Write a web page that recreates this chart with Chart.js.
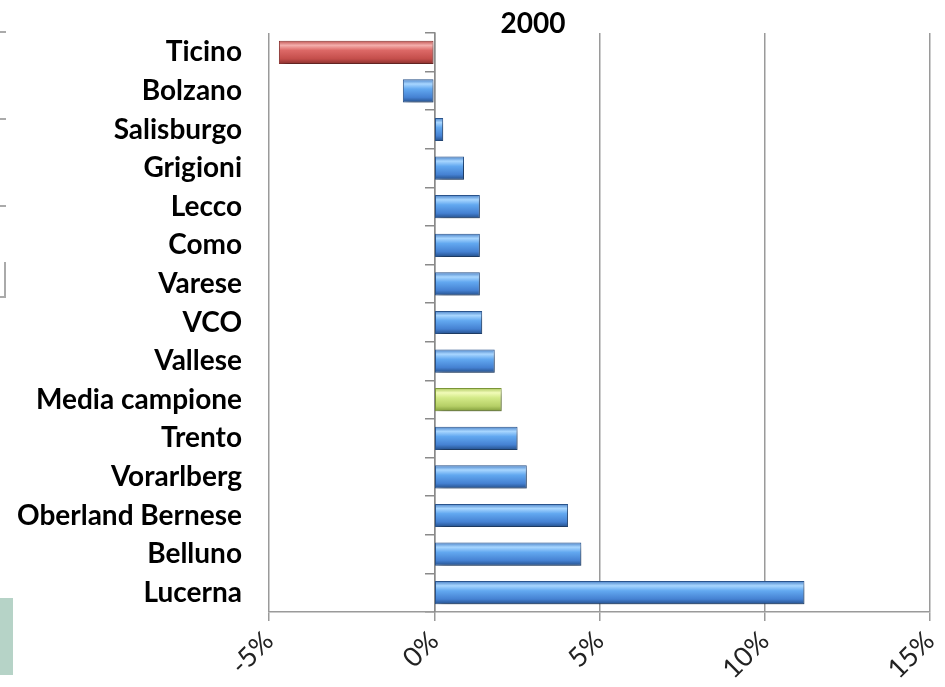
<!DOCTYPE html>
<html>
<head>
<meta charset="utf-8">
<script src="https://cdn.jsdelivr.net/npm/chart.js@4"></script>
<style>
  html, body { margin: 0; padding: 0; background: #fff; }
  #wrap { position: relative; width: 945px; height: 687px; overflow: hidden; }
  .mark { position: absolute; background: #aaa; }
</style>
</head>
<body>
<div id="wrap">
  <canvas id="chart" width="945" height="687"></canvas>
  <!-- bits of the neighbouring slide on the left edge -->
  <div class="mark" style="left:0;top:31px;width:6px;height:2px"></div>
  <div class="mark" style="left:0;top:118px;width:6px;height:2px"></div>
  <div class="mark" style="left:0;top:205px;width:6px;height:2px"></div>
  <div class="mark" style="left:4px;top:262px;width:2px;height:36px"></div>
  <div class="mark" style="left:0;top:296px;width:5px;height:2px"></div>
  <div style="position:absolute;left:0;top:598px;width:13px;height:77px;background:#b6d3c7"></div>
</div>
<script>
const title = '2000';
const regions = ['Ticino', 'Bolzano', 'Salisburgo', 'Grigioni', 'Lecco', 'Como', 'Varese', 'VCO',
    'Vallese', 'Media campione', 'Trento', 'Vorarlberg', 'Oberland Bernese', 'Belluno', 'Lucerna'];
const growth = [-4.7, -0.95, 0.27, 0.9, 1.38, 1.38, 1.38, 1.45, 1.83, 2.04, 2.52, 2.8, 4.05, 4.45, 11.2];
const xTicks = [-5, 0, 5, 10, 15];

const palette = {
    blue: { edge: '#2b568f', stops: ['#4a82c8', '#a8d6ff', '#62a8f0', '#4581d2', '#244f8a'] },
    red: { edge: '#8e3432', stops: ['#c05250', '#f4aeac', '#dc6866', '#c44e4b', '#8a302e'] },
    green: { edge: '#7f9a3a', stops: ['#adc85e', '#f1fbb8', '#d3ea88', '#b5cf66', '#7f9b3a'] }
};

function colorFor(i) {
    if (regions[i] === 'Ticino') return palette.red;
    if (regions[i] === 'Media campione') return palette.green;
    return palette.blue;
}

function barFill(context) {
    const chart = context.chart;
    const yScale = chart.scales.y;
    const pal = colorFor(context.dataIndex);
    if (!yScale || context.dataIndex === undefined) return pal.stops[3];
    const band = (yScale.bottom - yScale.top) / regions.length * 0.6;
    const cy = yScale.getPixelForValue(context.dataIndex);
    if (!isFinite(cy) || !isFinite(band) || band <= 0) return pal.stops[3];
    const g = chart.ctx.createLinearGradient(0, cy - band / 2, 0, cy + band / 2);
    g.addColorStop(0, pal.stops[0]);
    g.addColorStop(0.2, pal.stops[1]);
    g.addColorStop(0.42, pal.stops[2]);
    g.addColorStop(0.78, pal.stops[3]);
    g.addColorStop(1, pal.stops[4]);
    return g;
}

const shadowPlugin = {
    id: 'barShadow',
    beforeDatasetsDraw(chart) {
        const c = chart.ctx;
        c.save();
        c.shadowColor = 'rgba(0,0,0,0.4)';
        c.shadowBlur = 7;
        c.shadowOffsetX = 3;
        c.shadowOffsetY = 4;
    },
    afterDatasetsDraw(chart) {
        chart.ctx.restore();
    }
};

const titlePlugin = {
    id: 'topTitle',
    afterDraw(chart) {
        const c = chart.ctx;
        c.save();
        c.font = 'bold 28px Lato';
        c.fillStyle = '#000';
        c.textAlign = 'center';
        c.textBaseline = 'alphabetic';
        c.fillText(title, 533, 33);
        c.restore();
    }
};

new Chart(document.getElementById('chart'), {
    type: 'bar',
    data: {
        labels: regions,
        datasets: [{
            data: growth,
            backgroundColor: barFill,
            borderColor: ctx => colorFor(ctx.dataIndex).edge,
            borderWidth: 1,
            borderSkipped: false,
            categoryPercentage: 1,
            barPercentage: 0.6
        }]
    },
    options: {
        indexAxis: 'y',
        responsive: false,
        animation: false,
        layout: { padding: { top: 33, right: 15, left: 0, bottom: 0 } },
        plugins: {
            legend: { display: false },
            tooltip: { enabled: false }
        },
        scales: {
            x: {
                min: -5,
                max: 15,
                afterBuildTicks: s => { s.ticks = xTicks.map(v => ({ value: v })); },
                afterFit: s => { s.height = 75; s.paddingLeft = 0; s.paddingRight = 0; },
                grid: { color: '#9a9a9a', lineWidth: 1.5, tickLength: 9 },
                border: { color: '#9a9a9a', width: 1.5 },
                ticks: {
                    callback: v => v + '%',
                    minRotation: 45,
                    maxRotation: 45,
                    padding: 4,
                    color: '#222',
                    font: { family: 'Lato', size: 27 }
                }
            },
            y: {
                afterFit: s => { s.width = 269; s.paddingTop = 0; s.paddingBottom = 0; },
                grid: { display: false, drawTicks: false },
                border: { display: false },
                ticks: {
                    padding: 27,
                    color: '#000',
                    font: { family: 'Lato', size: 28, weight: 'bold' }
                }
            },
            yAxis0: {
                type: 'category',
                axis: 'y',
                position: { x: 0 },
                offset: true,
                afterFit: s => { s.paddingTop = 0; s.paddingBottom = 0; },
                grid: { offset: true, drawOnChartArea: false, tickLength: 9, color: '#8a8a8a', lineWidth: 1.5 },
                border: { display: true, color: '#8a8a8a', width: 1.5 },
                ticks: { display: false }
            }
        }
    },
    plugins: [shadowPlugin, titlePlugin]
});
</script>
</body>
</html>
